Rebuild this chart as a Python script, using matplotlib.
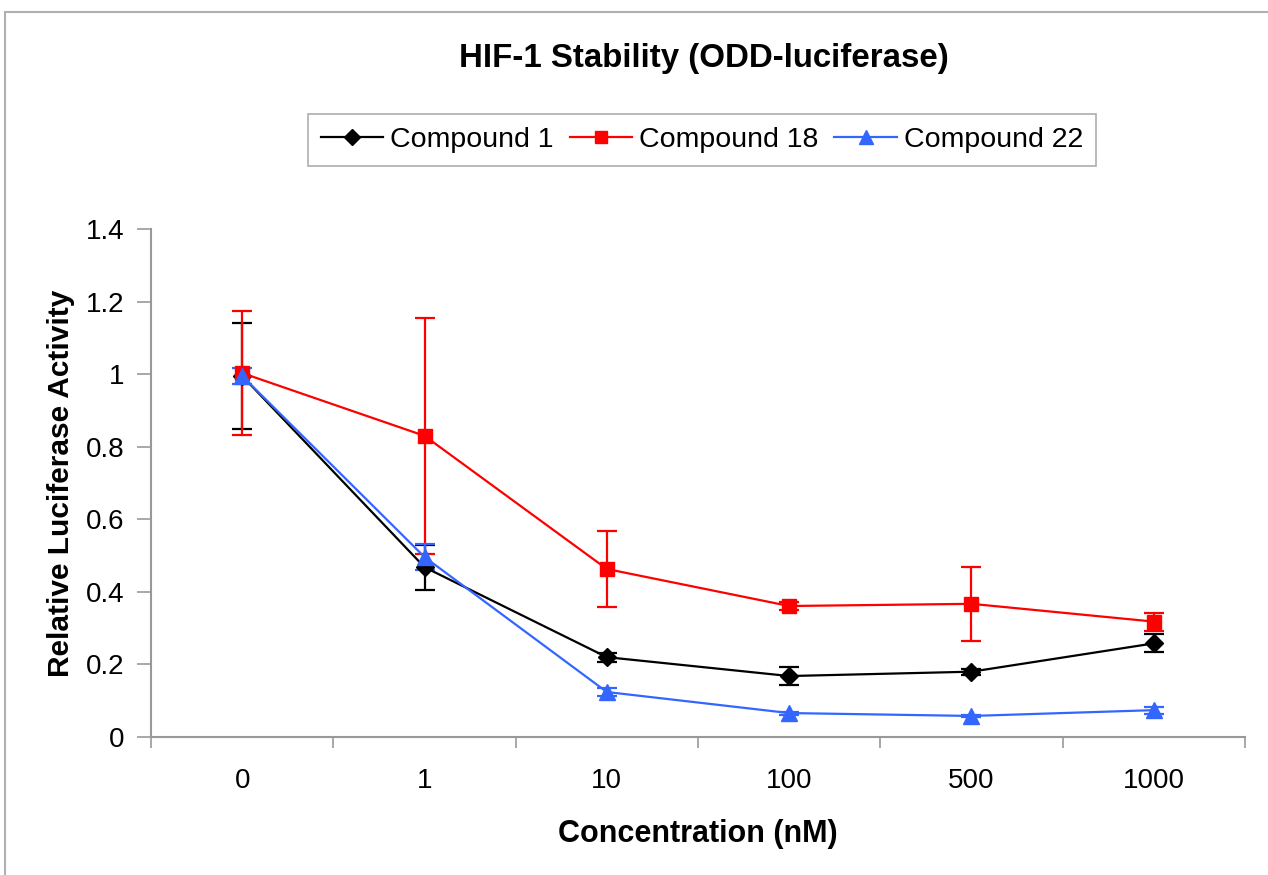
import matplotlib
matplotlib.use("Agg")
import matplotlib.pyplot as plt
from matplotlib.patches import Rectangle
from matplotlib.lines import Line2D
import numpy as np

plt.rcParams['font.family'] = ['Liberation Sans', 'DejaVu Sans']

# Dados
concentracoes = ["0", "1", "10", "100", "500", "1000"]

comp1 = [0.995, 0.468, 0.220, 0.168, 0.180, 0.258]
comp1_err = [0.145, 0.062, 0.012, 0.025, 0.008, 0.025]

comp18 = [1.003, 0.830, 0.463, 0.361, 0.367, 0.318]
comp18_err = [0.172, 0.325, 0.105, 0.010, 0.102, 0.025]

comp22 = [0.995, 0.496, 0.124, 0.066, 0.058, 0.074]
comp22_err = [0.022, 0.035, 0.010, 0.004, 0.004, 0.010]

fig = plt.figure(figsize=(12.68, 8.75), dpi=100)

# moldura cinza externa
fig.patches.append(Rectangle((5 / 1268, -0.2), 1.2, 1.2 - 12 / 875,
                             transform=fig.transFigure, fill=False,
                             edgecolor='#b0b0b0', linewidth=1.5))

ax = fig.add_axes([151 / 1268, 138 / 875, 1094 / 1268, 508 / 875])

x = np.arange(len(concentracoes))
series = [
    ("Compound 1", comp1, comp1_err, 'black', 'D', 9),
    ("Compound 18", comp18, comp18_err, '#ff0000', 's', 10),
    ("Compound 22", comp22, comp22_err, '#3366ff', '^', 11),
]
handles = []
for nome, vals, errs, cor, mk, ms in series:
    ax.errorbar(x, vals, yerr=errs, color=cor, marker=mk, markersize=ms,
                linewidth=1.6, elinewidth=1.6, capsize=7, capthick=1.6)
    handles.append(Line2D([], [], color=cor, marker=mk, markersize=ms - 1,
                          linewidth=1.6, label=nome))

ax.set_xlim(-0.5, len(concentracoes) - 0.5)
ax.set_ylim(0, 1.4)
ax.set_yticks(np.arange(0, 1.41, 0.2))
ax.set_yticklabels(["0", "0.2", "0.4", "0.6", "0.8", "1", "1.2", "1.4"])

# marcas principais nas fronteiras das categorias, rótulos no centro
ax.set_xticks(np.arange(-0.5, len(concentracoes), 1.0))
ax.set_xticklabels([])
ax.set_xticks(x, minor=True)
ax.set_xticklabels(concentracoes, minor=True)
ax.tick_params(axis='x', which='minor', length=0, pad=22, labelsize=20)
ax.tick_params(axis='x', which='major', length=8, color='#999999', width=1.2)
ax.tick_params(axis='y', length=10, color='#999999', width=1.2, pad=9, labelsize=20)

for s in ['top', 'right']:
    ax.spines[s].set_visible(False)
for s in ['left', 'bottom']:
    ax.spines[s].set_color('#999999')
    ax.spines[s].set_linewidth(1.5)

ax.set_xlabel("Concentration (nM)", fontsize=22, fontweight='bold', labelpad=18)
ax.set_ylabel("Relative Luciferase Activity", fontsize=21.5, fontweight='bold', labelpad=8)

fig.text(704 / 1268, 1 - 58 / 875, "HIF-1 Stability (ODD-luciferase)",
         ha='center', va='center', fontsize=23.8, fontweight='bold')

leg = fig.legend(handles=handles, loc='center', bbox_to_anchor=(702 / 1268, 1 - 140 / 875),
                 ncol=3, fontsize=20.5, frameon=True, fancybox=False, handlelength=2.2,
                 handletextpad=0.25, columnspacing=0.55, borderpad=0.45, borderaxespad=0)
leg.get_frame().set_edgecolor('#999999')
leg.get_frame().set_linewidth(1.2)

fig.savefig("out.png", dpi=100)
